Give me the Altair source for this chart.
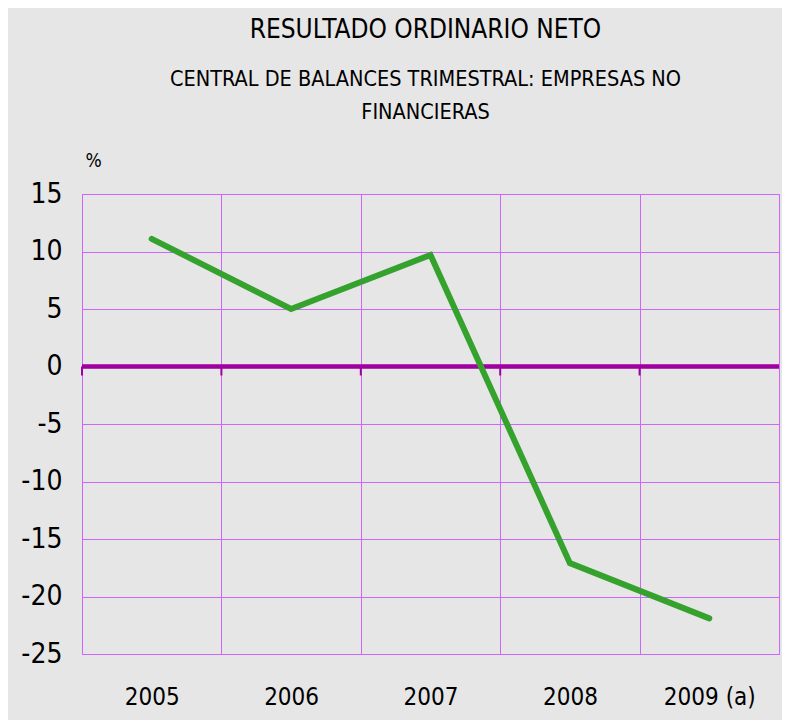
import altair as alt
import pandas as pd

years = ["2005", "2006", "2007", "2008", "2009 (a)"]
values = [11.1, 5.0, 9.7, -17.1, -21.9]
y_ticks = [-25, -20, -15, -10, -5, 0, 5, 10, 15]

title_text = "RESULTADO ORDINARIO NETO"
subtitle_lines = ["CENTRAL DE BALANCES TRIMESTRAL: EMPRESAS NO", "FINANCIERAS"]

FONT = "DejaVu Sans Condensed, Liberation Sans, sans-serif"
GRID = "#cc66ff"
ZERO = "#a000a0"
GREEN = "#36a22e"

df = pd.DataFrame({"year": years, "value": values})

xscale = alt.Scale(type="band", paddingInner=0, paddingOuter=0)
xaxis = alt.Axis(title=None, tickBand="extent", grid=True, gridColor=GRID,
                 gridWidth=1, ticks=False, domain=False, labelAngle=0,
                 labelFontSize=24, labelPadding=31, labelFont=FONT,
                 labelColor="black")

line = alt.Chart(df).mark_line(color=GREEN, strokeWidth=6, strokeCap="round").encode(
    x=alt.X("year:N", sort=years, scale=xscale, bandPosition=0.5, axis=xaxis),
    y=alt.Y("value:Q", scale=alt.Scale(domain=[-25, 15], nice=False, zero=False),
            axis=alt.Axis(values=y_ticks, title="%", titleAngle=0, titleAlign="left",
                          titleBaseline="alphabetic", titleX=3, titleY=-28,
                          titleFontSize=19, titleFont=FONT, titleFontWeight="normal",
                          titleColor="black", grid=True, gridColor=GRID, gridWidth=1,
                          domain=False, ticks=False, labelFontSize=28, labelPadding=20,
                          labelFont=FONT, labelColor="black", labelBaseline="middle",
                          labelExpr="'' + datum.value")),
)

zero = alt.Chart(df).mark_rule(color=ZERO, strokeWidth=3.5).encode(
    y=alt.YDatum(0)
)

ticks = alt.Chart(df).mark_rule(color=ZERO, strokeWidth=2, y2Offset=9).encode(
    x=alt.X("year:N", sort=years, scale=xscale, bandPosition=0, axis=xaxis),
    y=alt.YDatum(0),
    y2=alt.Y2Datum(0),
)

chart = alt.layer(zero, ticks, line).properties(
    width=697,
    height=460,
    autosize=alt.AutoSizeParams(type="none"),
    padding={"left": 74, "top": 186, "right": 3, "bottom": 66},
    background="#e6e6e6",
    title=alt.TitleParams(
        text=title_text,
        subtitle=subtitle_lines,
        font=FONT, subtitleFont=FONT,
        fontSize=26, subtitleFontSize=21.5,
        fontWeight="normal", subtitleFontWeight="normal",
        color="black", subtitleColor="black",
        anchor="middle", frame="group",
        offset=28, subtitlePadding=26, subtitleLineHeight=33, dx=-5,
    ),
).configure_view(stroke=GRID, strokeWidth=1)

chart.save("out.html", embed_options={"renderer": "svg", "actions": False})
